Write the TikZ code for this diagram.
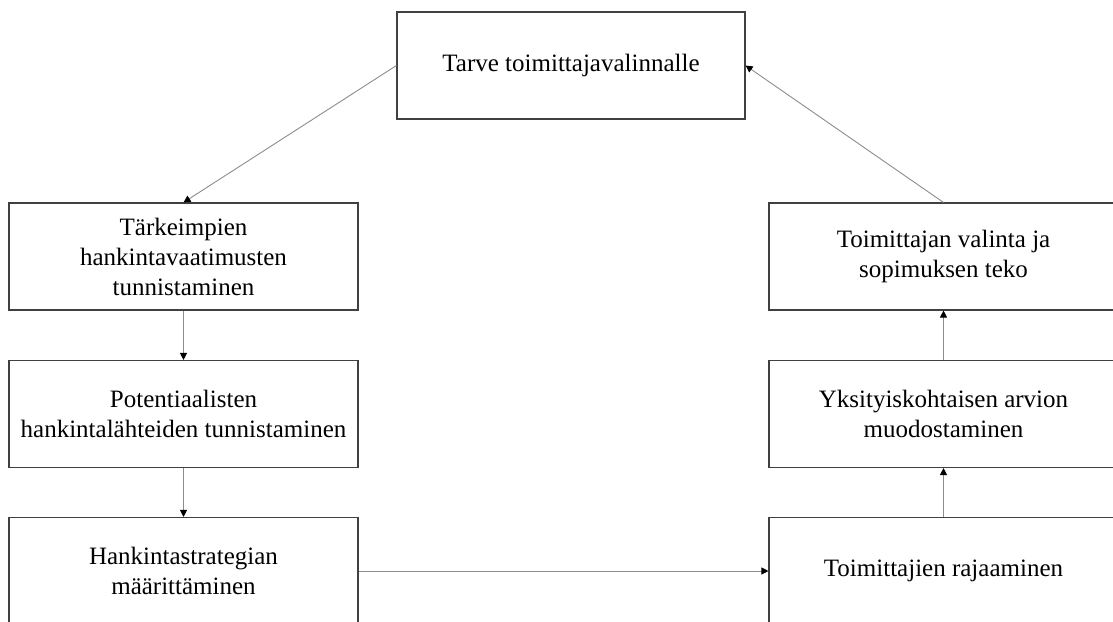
\documentclass[tikz,border=0pt]{standalone}
\usepackage{fontspec}
\setmainfont{Liberation Serif}
\usetikzlibrary{arrows.meta}
\begin{document}
\begin{tikzpicture}[x=1pt,y=1pt,
  stagebox/.style={draw=black!75, line width=1.1pt, fill=white,
    minimum width=349pt, minimum height=107pt, align=center,
    font=\fontsize{25}{30}\selectfont, inner sep=0pt},
  flow/.style={draw=black!45, line width=0.9pt,
    -{Triangle[length=7pt,width=7pt,color=black]}}]
\useasboundingbox (0,0) rectangle (1113,-621);
\clip (0,0) rectangle (1113,-621);

% process stages
\node[stagebox, minimum width=348pt] (need) at (571,-65.5) {Tarve toimittajavalinnalle};
\node[stagebox] (req) at (183.5,-256.5) {Tärkeimpien\\hankintavaatimusten\\tunnistaminen};
\node[stagebox] (src) at (183.5,-414) {Potentiaalisten\\hankintalähteiden tunnistaminen};
\node[stagebox] (strat) at (183.5,-571) {Hankintastrategian\\määrittäminen};
\node[stagebox] (limit) at (943.5,-571) {Toimittajien rajaaminen};
\node[stagebox] (eval) at (943.5,-414) {Yksityiskohtaisen arvion\\muodostaminen};
\node[stagebox] (pick) at (943.5,-256.5) {Toimittajan valinta ja\\sopimuksen teko};

% connectors
\draw[flow] (need.west) -- (req.north);
\draw[flow] (req.south) -- (src.north);
\draw[flow] (src.south) -- (strat.north);
\draw[flow] (strat.east) -- (limit.west);
\draw[flow] (limit.north) -- (eval.south);
\draw[flow] (eval.north) -- (pick.south);
\draw[flow] (pick.north) -- (need.east);
\end{tikzpicture}
\end{document}
